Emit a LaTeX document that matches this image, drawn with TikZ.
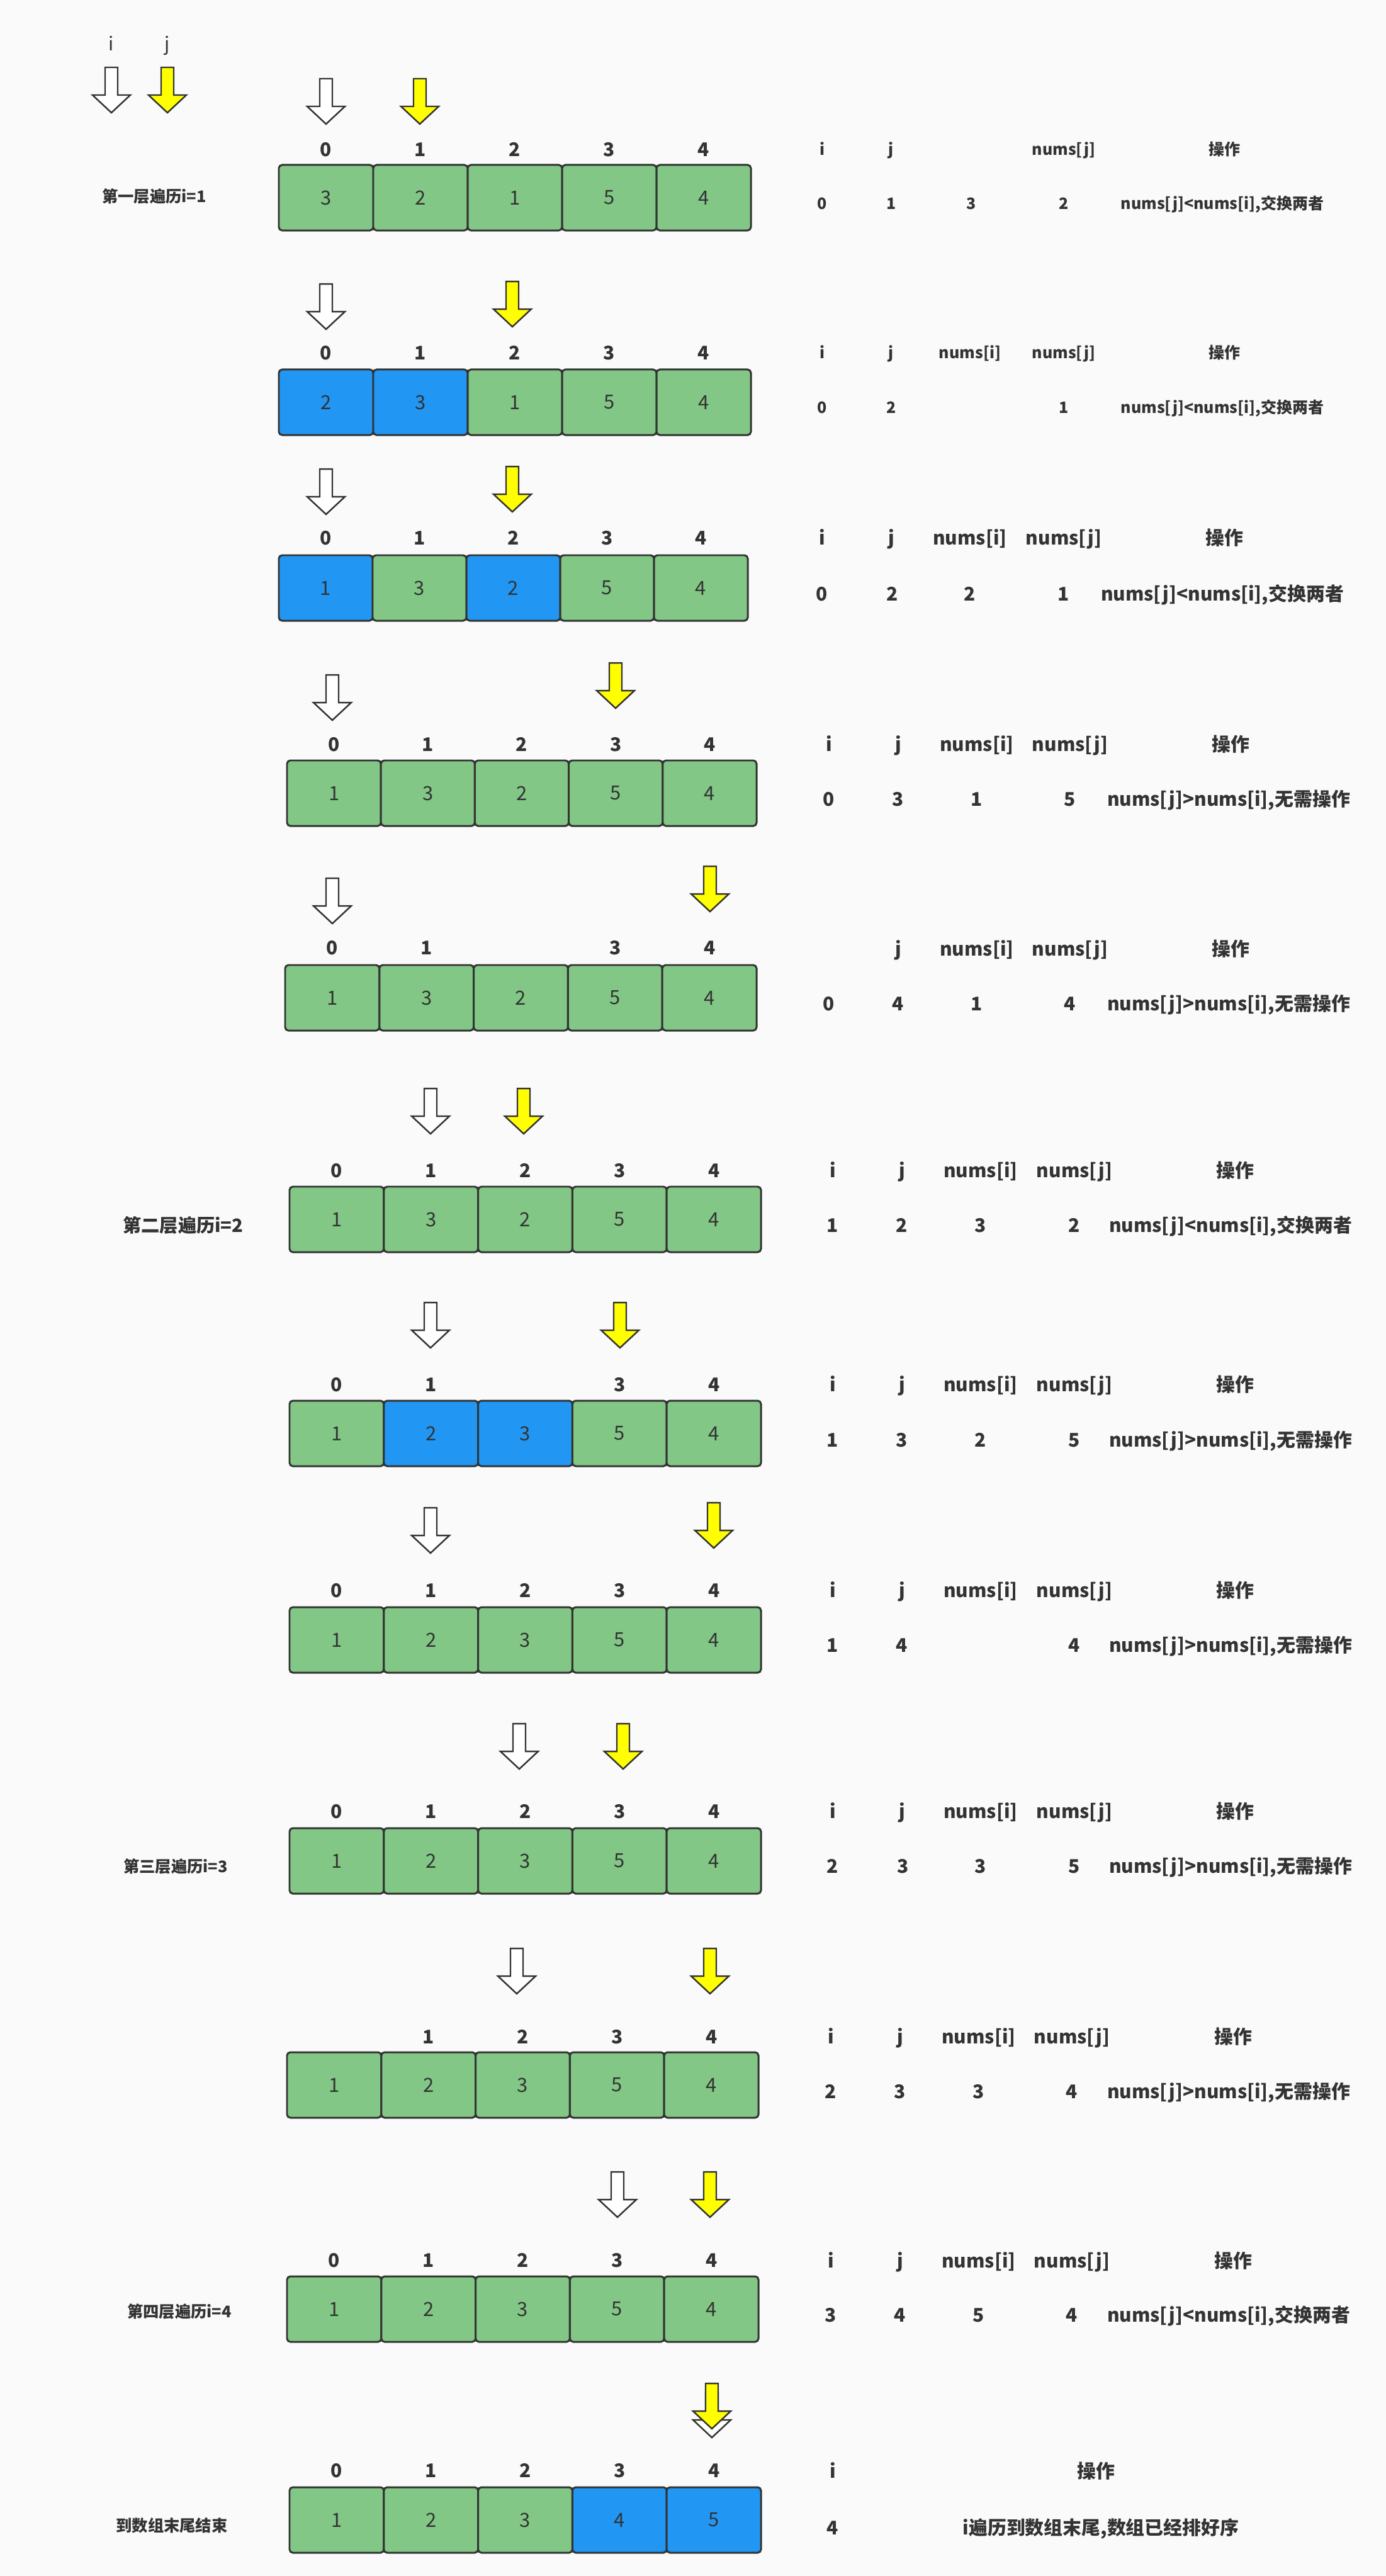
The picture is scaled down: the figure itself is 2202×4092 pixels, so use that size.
\documentclass[tikz,border=0pt]{standalone}
\usepackage{fontspec}
\setmainfont{Noto Sans CJK SC}
\definecolor{bg}{HTML}{FAFAFA}
\definecolor{gcell}{HTML}{82C785}
\definecolor{bcell}{HTML}{2196F3}
\definecolor{ink}{HTML}{333333}
\definecolor{yarr}{HTML}{FFFF00}
\tikzset{
  cell/.style={draw=ink, line width=0.85pt, rounded corners=1.5pt, minimum height=1.04cm,
    inner sep=0pt, text=ink, font=\fontsize{8.8pt}{10pt}\selectfont, fill=gcell},
  gc/.style={fill=gcell},
  bc/.style={fill=bcell},
  idx/.style={anchor=base, text=ink, inner sep=0pt, font=\bfseries\fontsize{8.5pt}{10pt}\selectfont},
  tb/.style={anchor=base, text=ink, inner sep=0pt, font=\bfseries\fontsize{8.5pt}{10pt}\selectfont},
  ts/.style={anchor=base, text=ink, inner sep=0pt, font=\bfseries\fontsize{7.1pt}{9pt}\selectfont},
  lbl/.style={anchor=base, text=ink, inner sep=0pt, font=\bfseries\fontsize{7.2pt}{9pt}\selectfont},
  lgd/.style={anchor=base, text=ink, inner sep=0pt, font=\fontsize{8.5pt}{10pt}\selectfont},
  ptr/.style={draw=ink, line width=0.7pt, line join=miter},
  darr/.pic={\path[pic actions] (-10,0)--(10,0)--(10,44)--(30,44)--(0,72)--(-30,44)--(-10,44)--cycle;}
}
% #1 prefix, #2 x0, #3 top, #4 step, #5 list value/style
\newcommand\arrayrow[5]{%
  \foreach \v/\s [count=\k from 0] in {#5} {
    \node[cell,\s,minimum width={#4*0.01cm}] (#1c\k) at ({#2+#4/2+#4*\k},{#3+52}) {\v};
  }}
% #1 prefix, #2 x0, #3 step, #4 baseline, #5 list
\newcommand\idxrow[5]{%
  \foreach \k in {#5} {
    \node[idx] (#1i\k) at ({#2+#3/2+#3*\k},#4) {\k};
  }}
\newcommand\tn[5]{\node[#2] (#1) at (#3,#4) {#5};}
\begin{document}
\begin{tikzpicture}[x=0.01cm,y=-0.01cm]
\fill[bg] (0,0) rectangle (2202,4092);
\useasboundingbox (0,0) rectangle (2202,4092);

% legend
\tn{li}{lgd}{177}{80}{i}
\tn{lj}{lgd}{266}{80}{j}
\pic[ptr,fill=white] (lai) at (177,107) {darr};
\pic[ptr,fill=yarr] (laj) at (266,107) {darr};

% ---------- row 1
\tn{lab1}{lbl}{245}{321}{第一层遍历i=1}
\pic[ptr,fill=white] at (518,125) {darr};
\pic[ptr,fill=yarr] at (667,125) {darr};
\idxrow{r1}{443}{150}{248}{0,1,2,3,4}
\arrayrow{r1}{443}{262}{150}{3/gc,2/gc,1/gc,5/gc,4/gc}
\tn{t1hi}{ts}{1306}{246}{i}
\tn{t1hj}{ts}{1416}{246}{j}
\tn{t1hnj}{ts}{1690}{246}{nums[j]}
\tn{t1hop}{ts}{1945}{246}{操作}
\tn{t1vi}{ts}{1306}{332}{0}
\tn{t1vj}{ts}{1416}{332}{1}
\tn{t1vni}{ts}{1543}{332}{3}
\tn{t1vnj}{ts}{1690}{332}{2}
\tn{t1vop}{ts}{1942}{332}{nums[j]<nums[i],交换两者}

% ---------- row 2
\pic[ptr,fill=white] at (518,451) {darr};
\pic[ptr,fill=yarr] at (814,447) {darr};
\idxrow{r2}{443}{150}{571}{0,1,2,3,4}
\arrayrow{r2}{443}{587}{150}{2/bc,3/bc,1/gc,5/gc,4/gc}
\tn{t2hi}{ts}{1306}{569}{i}
\tn{t2hj}{ts}{1416}{569}{j}
\tn{t2hni}{ts}{1541}{569}{nums[i]}
\tn{t2hnj}{ts}{1690}{569}{nums[j]}
\tn{t2hop}{ts}{1945}{569}{操作}
\tn{t2vi}{ts}{1306}{656}{0}
\tn{t2vj}{ts}{1416}{656}{2}
\tn{t2vnj}{ts}{1690}{656}{1}
\tn{t2vop}{ts}{1942}{656}{nums[j]<nums[i],交换两者}

% ---------- row 3
\pic[ptr,fill=white] at (518,745) {darr};
\pic[ptr,fill=yarr] at (814,741) {darr};
\idxrow{r3}{443}{149}{865}{0,1,2,3,4}
\arrayrow{r3}{443}{882}{149}{1/bc,3/gc,2/bc,5/gc,4/gc}
\tn{t3hi}{tb}{1306}{865}{i}
\tn{t3hj}{tb}{1416}{865}{j}
\tn{t3hni}{tb}{1541}{865}{nums[i]}
\tn{t3hnj}{tb}{1690}{865}{nums[j]}
\tn{t3hop}{tb}{1945}{865}{操作}
\tn{t3vi}{tb}{1306}{954}{0}
\tn{t3vj}{tb}{1418}{954}{2}
\tn{t3vni}{tb}{1541}{954}{2}
\tn{t3vnj}{tb}{1690}{954}{1}
\tn{t3vop}{tb}{1942}{954}{nums[j]<nums[i],交换两者}

% ---------- row 4
\pic[ptr,fill=white] at (528,1072) {darr};
\pic[ptr,fill=yarr] at (978,1053) {darr};
\idxrow{r4}{456}{149.2}{1193}{0,1,2,3,4}
\arrayrow{r4}{456}{1208}{149.2}{1/gc,3/gc,2/gc,5/gc,4/gc}
\tn{t4hi}{tb}{1317}{1193}{i}
\tn{t4hj}{tb}{1427}{1193}{j}
\tn{t4hni}{tb}{1552}{1193}{nums[i]}
\tn{t4hnj}{tb}{1700}{1193}{nums[j]}
\tn{t4hop}{tb}{1955}{1193}{操作}
\tn{t4vi}{tb}{1317}{1280}{0}
\tn{t4vj}{tb}{1427}{1280}{3}
\tn{t4vni}{tb}{1552}{1280}{1}
\tn{t4vnj}{tb}{1700}{1280}{5}
\tn{t4vop}{tb}{1952}{1280}{nums[j]>nums[i],无需操作}

% ---------- row 5
\pic[ptr,fill=white] at (528,1395) {darr};
\pic[ptr,fill=yarr] at (1128,1376) {darr};
\idxrow{r5}{453}{149.8}{1516}{0,1,3,4}
\arrayrow{r5}{453}{1533}{149.8}{1/gc,3/gc,2/gc,5/gc,4/gc}
\tn{t5hj}{tb}{1427}{1518}{j}
\tn{t5hni}{tb}{1552}{1518}{nums[i]}
\tn{t5hnj}{tb}{1700}{1518}{nums[j]}
\tn{t5hop}{tb}{1955}{1518}{操作}
\tn{t5vi}{tb}{1317}{1605}{0}
\tn{t5vj}{tb}{1427}{1605}{4}
\tn{t5vni}{tb}{1552}{1605}{1}
\tn{t5vnj}{tb}{1700}{1605}{4}
\tn{t5vop}{tb}{1952}{1605}{nums[j]>nums[i],无需操作}

% ---------- row 6
\node[lbl,font=\bfseries\fontsize{8.3pt}{10pt}\selectfont] (lab2) at (291,1957) {第二层遍历i=2};
\pic[ptr,fill=white] at (684,1729) {darr};
\pic[ptr,fill=yarr] at (832,1729) {darr};
\idxrow{r6}{460}{149.8}{1870}{0,1,2,3,4}
\arrayrow{r6}{460}{1885}{149.8}{1/gc,3/gc,2/gc,5/gc,4/gc}
\tn{t6hi}{tb}{1323}{1870}{i}
\tn{t6hj}{tb}{1433}{1870}{j}
\tn{t6hni}{tb}{1558}{1870}{nums[i]}
\tn{t6hnj}{tb}{1707}{1870}{nums[j]}
\tn{t6hop}{tb}{1962}{1870}{操作}
\tn{t6vi}{tb}{1323}{1957}{1}
\tn{t6vj}{tb}{1433}{1957}{2}
\tn{t6vni}{tb}{1558}{1957}{3}
\tn{t6vnj}{tb}{1707}{1957}{2}
\tn{t6vop}{tb}{1955}{1957}{nums[j]<nums[i],交换两者}

% ---------- row 7
\pic[ptr,fill=white] at (684,2069) {darr};
\pic[ptr,fill=yarr] at (985,2069) {darr};
\idxrow{r7}{460}{149.8}{2210}{0,1,3,4}
\arrayrow{r7}{460}{2225}{149.8}{1/gc,2/bc,3/bc,5/gc,4/gc}
\tn{t7hi}{tb}{1323}{2210}{i}
\tn{t7hj}{tb}{1433}{2210}{j}
\tn{t7hni}{tb}{1558}{2210}{nums[i]}
\tn{t7hnj}{tb}{1707}{2210}{nums[j]}
\tn{t7hop}{tb}{1962}{2210}{操作}
\tn{t7vi}{tb}{1323}{2298}{1}
\tn{t7vj}{tb}{1433}{2298}{3}
\tn{t7vni}{tb}{1558}{2298}{2}
\tn{t7vnj}{tb}{1707}{2298}{5}
\tn{t7vop}{tb}{1955}{2298}{nums[j]>nums[i],无需操作}

% ---------- row 8
\pic[ptr,fill=white] at (684,2395) {darr};
\pic[ptr,fill=yarr] at (1134,2387) {darr};
\idxrow{r8}{460}{149.8}{2537}{0,1,2,3,4}
\arrayrow{r8}{460}{2553}{149.8}{1/gc,2/gc,3/gc,5/gc,4/gc}
\tn{t8hi}{tb}{1323}{2537}{i}
\tn{t8hj}{tb}{1433}{2537}{j}
\tn{t8hni}{tb}{1558}{2537}{nums[i]}
\tn{t8hnj}{tb}{1707}{2537}{nums[j]}
\tn{t8hop}{tb}{1962}{2537}{操作}
\tn{t8vi}{tb}{1323}{2624}{1}
\tn{t8vj}{tb}{1433}{2624}{4}
\tn{t8vnj}{tb}{1707}{2624}{4}
\tn{t8vop}{tb}{1955}{2624}{nums[j]>nums[i],无需操作}

% ---------- row 9
\tn{lab3}{lbl}{279}{2974}{第三层遍历i=3}
\pic[ptr,fill=white] at (825,2738) {darr};
\pic[ptr,fill=yarr] at (990,2738) {darr};
\idxrow{r9}{460}{149.8}{2888}{0,1,2,3,4}
\arrayrow{r9}{460}{2904}{149.8}{1/gc,2/gc,3/gc,5/gc,4/gc}
\tn{t9hi}{tb}{1323}{2888}{i}
\tn{t9hj}{tb}{1433}{2888}{j}
\tn{t9hni}{tb}{1558}{2888}{nums[i]}
\tn{t9hnj}{tb}{1707}{2888}{nums[j]}
\tn{t9hop}{tb}{1962}{2888}{操作}
\tn{t9vi}{tb}{1323}{2975}{2}
\tn{t9vj}{tb}{1435}{2975}{3}
\tn{t9vni}{tb}{1558}{2975}{3}
\tn{t9vnj}{tb}{1707}{2975}{5}
\tn{t9vop}{tb}{1955}{2975}{nums[j]>nums[i],无需操作}

% ---------- row 10
\pic[ptr,fill=white] at (821,3095) {darr};
\pic[ptr,fill=yarr] at (1128,3095) {darr};
\idxrow{r10}{456}{149.8}{3246}{1,2,3,4}
\arrayrow{r10}{456}{3260}{149.8}{1/gc,2/gc,3/gc,5/gc,4/gc}
\tn{t10hi}{tb}{1320}{3246}{i}
\tn{t10hj}{tb}{1430}{3246}{j}
\tn{t10hni}{tb}{1555}{3246}{nums[i]}
\tn{t10hnj}{tb}{1703}{3246}{nums[j]}
\tn{t10hop}{tb}{1959}{3246}{操作}
\tn{t10vi}{tb}{1320}{3333}{2}
\tn{t10vj}{tb}{1430}{3333}{3}
\tn{t10vni}{tb}{1555}{3333}{3}
\tn{t10vnj}{tb}{1703}{3333}{4}
\tn{t10vop}{tb}{1952}{3333}{nums[j]>nums[i],无需操作}

% ---------- row 11
\tn{lab4}{lbl}{285}{3681}{第四层遍历i=4}
\pic[ptr,fill=white] at (981,3450) {darr};
\pic[ptr,fill=yarr] at (1128,3450) {darr};
\idxrow{r11}{456}{149.8}{3601}{0,1,2,3,4}
\arrayrow{r11}{456}{3616}{149.8}{1/gc,2/gc,3/gc,5/gc,4/gc}
\tn{t11hi}{tb}{1320}{3602}{i}
\tn{t11hj}{tb}{1430}{3602}{j}
\tn{t11hni}{tb}{1555}{3602}{nums[i]}
\tn{t11hnj}{tb}{1703}{3602}{nums[j]}
\tn{t11hop}{tb}{1959}{3602}{操作}
\tn{t11vi}{tb}{1320}{3688}{3}
\tn{t11vj}{tb}{1430}{3688}{4}
\tn{t11vni}{tb}{1555}{3688}{5}
\tn{t11vnj}{tb}{1703}{3688}{4}
\tn{t11vop}{tb}{1952}{3688}{nums[j]<nums[i],交换两者}

% ---------- row 12
\tn{lab5}{lbl}{273}{4021}{到数组末尾结束}
\pic[ptr,fill=white] at (1131,3800) {darr};
\pic[ptr,fill=yarr] at (1131,3786) {darr};
\idxrow{r12}{460}{149.8}{3935}{0,1,2,3,4}
\arrayrow{r12}{460}{3951}{149.8}{1/gc,2/gc,3/gc,4/bc,5/bc}
\tn{t12hi}{tb}{1323}{3936}{i}
\tn{t12hop}{tb}{1741}{3936}{操作}
\tn{t12vi}{tb}{1323}{4026}{4}
\tn{t12vop}{tb}{1749}{4026}{i遍历到数组末尾,数组已经排好序}
\end{tikzpicture}
\end{document}
